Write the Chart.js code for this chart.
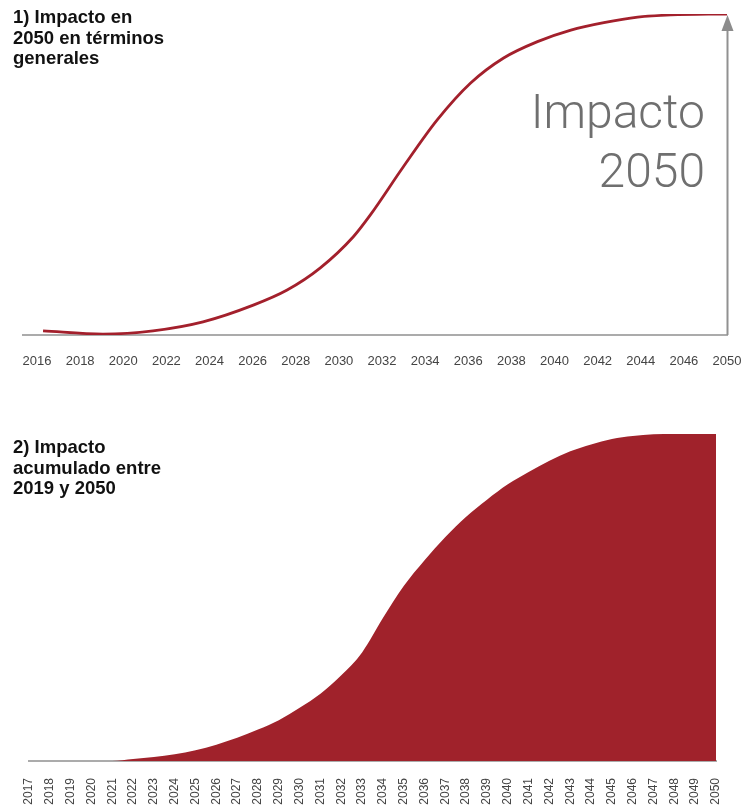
<!DOCTYPE html>
<html><head><meta charset="utf-8">
<script src="https://cdn.jsdelivr.net/npm/chart.js@4"></script>
<style>
html,body{margin:0;padding:0;background:#fff;width:745px;height:809px;overflow:hidden;}
#wrap{position:relative;width:745px;height:809px;}
.box{position:absolute;left:0;width:745px;}
.title{position:absolute;left:13px;font-family:"Liberation Sans",Arial,sans-serif;font-weight:bold;font-size:18.5px;line-height:20.5px;color:#111;white-space:nowrap;}
.big{position:absolute;right:40px;top:82px;text-align:right;font-family:Roboto,"Liberation Sans",sans-serif;font-weight:300;font-size:48px;line-height:59px;color:#6f6f6f;white-space:nowrap;}
</style></head><body>
<div id="wrap">
  <div class="box" style="top:0;height:385px"><canvas id="c1" width="745" height="385"></canvas></div>
  <div class="box" style="top:400px;height:409px"><canvas id="c2" width="745" height="409"></canvas></div>
  <div class="title" style="top:7px">1) Impacto en<br>2050 en términos<br>generales</div>
  <div class="title" style="top:437px">2) Impacto<br>acumulado entre<br>2019 y 2050</div>
  <div class="big">Impacto<br>2050</div>
</div>
<script>
// ---- Chart 1: impacto en 2050 (axis position units; last tick is labelled 2050) ----
const topTickLabels = ['2016','2018','2020','2022','2024','2026','2028','2030','2032','2034','2036','2038','2040','2042','2044','2046','2050'];
const topPosition = [2016.28, 2019.06, 2021.38, 2023.70, 2026.03, 2027.60, 2029.14, 2030.67, 2031.46, 2032.99, 2034.56, 2036.11, 2037.64, 2039.21, 2040.76, 2042.29, 2043.86, 2045.40, 2048.00];
const topImpact   = [1.3, 0.3, 1.3, 4.1, 9.3, 14.0, 20.9, 30.6, 37.4, 52.4, 67.0, 78.5, 86.3, 91.4, 95.0, 97.3, 99.0, 99.7, 100];

// ---- Chart 2: impacto acumulado ----
const bottomYears = ['2017','2018','2019','2020','2021','2022','2023','2024','2025','2026','2027','2028','2029','2030','2031','2032','2033','2034','2035','2036','2037','2038','2039','2040','2041','2042','2043','2044','2045','2046','2047','2048','2049','2050'];
const bottomCumulative = [0,0,0,0,0,0.6,1.2,2.1,3.3,5.0,7.1,9.6,12.5,16.3,20.6,26.2,33.2,43.7,53.5,61.4,68.5,74.7,79.9,84.6,88.4,91.8,94.7,96.8,98.5,99.4,99.9,100,100,100];

const RED = '#a3202c';
const FILL = '#a0222b';
const AXIS = '#ababab';
const TICK = '#444';

const noScalePadding = s => { s.paddingLeft = 0; s.paddingRight = 0; s.paddingTop = 0; s.paddingBottom = 0; };

const arrowPlugin = {
  id: 'arrow',
  beforeDatasetsDraw(chart) {
    const ctx = chart.ctx, xs = chart.scales.x, ys = chart.scales.y;
    const x = xs.getPixelForValue(xs.max) + 0.5;
    const y0 = ys.getPixelForValue(0);
    const tip = ys.getPixelForValue(100) + 1;
    ctx.save();
    ctx.strokeStyle = '#919191';
    ctx.lineWidth = 2;
    ctx.beginPath(); ctx.moveTo(x, y0); ctx.lineTo(x, tip + 14); ctx.stroke();
    ctx.fillStyle = '#8c8c8c';
    ctx.beginPath(); ctx.moveTo(x, tip); ctx.lineTo(x - 6, tip + 16); ctx.lineTo(x + 6, tip + 16); ctx.closePath(); ctx.fill();
    ctx.restore();
  }
};

new Chart(document.getElementById('c1'), {
  type: 'line',
  data: {
    datasets: [{
      data: topPosition.map((p, i) => ({x: p, y: topImpact[i]})),
      borderColor: RED, borderWidth: 2.8, pointRadius: 0, fill: false,
      cubicInterpolationMode: 'monotone'
    }]
  },
  options: {
    responsive: false, animation: false,
    layout: {padding: {left: 23, right: 18, top: 14, bottom: 0}, autoPadding: false},
    plugins: {legend: {display: false}, tooltip: {enabled: false}},
    scales: {
      x: {
        type: 'linear', min: 2015.35, max: 2048,
        grid: {display: false, drawTicks: false},
        border: {display: true, color: AXIS, width: 2},
        afterBuildTicks: s => { s.ticks = topTickLabels.map((l, i) => ({value: 2016 + 2 * i})); },
        afterFit: s => { s.height = 50; noScalePadding(s); },
        ticks: {
          autoSkip: false, maxRotation: 0, padding: 19,
          color: TICK, font: {family: '"Liberation Sans", Arial, sans-serif', size: 13},
          callback: (v, i) => topTickLabels[i]
        }
      },
      y: {display: false, min: 0, max: 100}
    }
  },
  plugins: [arrowPlugin]
});

new Chart(document.getElementById('c2'), {
  type: 'line',
  data: {
    labels: bottomYears,
    datasets: [{
      data: bottomCumulative,
      borderColor: FILL, borderWidth: 0, backgroundColor: FILL,
      pointRadius: 0, fill: 'origin', cubicInterpolationMode: 'monotone'
    }]
  },
  options: {
    responsive: false, animation: false,
    layout: {padding: {left: 29, right: 29, top: 34, bottom: 0}, autoPadding: false},
    plugins: {legend: {display: false}, tooltip: {enabled: false}},
    scales: {
      x: {
        offset: false,
        grid: {display: false, drawTicks: false},
        border: {display: true, color: AXIS, width: 2},
        afterFit: s => { s.height = 48; noScalePadding(s); },
        ticks: {
          autoSkip: false, minRotation: 90, maxRotation: 90, padding: 17,
          color: TICK, font: {family: '"Liberation Sans", Arial, sans-serif', size: 12}
        }
      },
      y: {display: false, min: 0, max: 100}
    }
  }
});
</script>
</body></html>
